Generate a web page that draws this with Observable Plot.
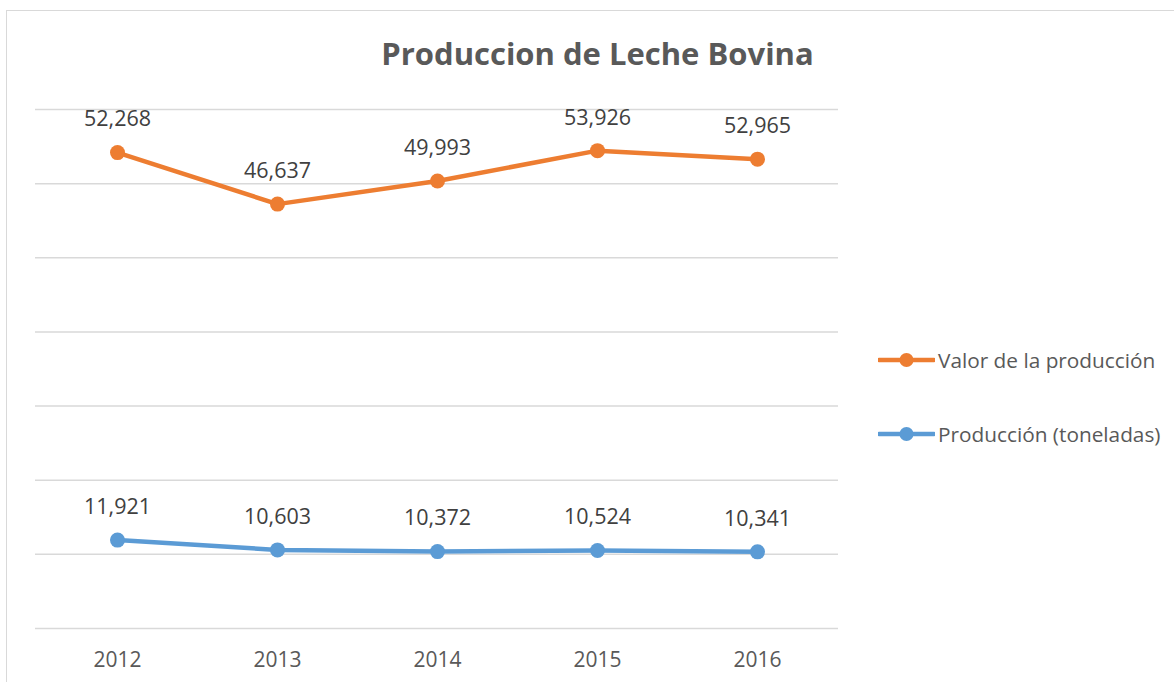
<!DOCTYPE html>
<html>
<head>
<meta charset="utf-8">
<script src="https://cdn.jsdelivr.net/npm/d3@7"></script>
<script src="https://cdn.jsdelivr.net/npm/@observablehq/plot@0.6"></script>
<style>
  html, body { margin: 0; padding: 0; background: #fff; width: 1174px; height: 682px; overflow: hidden; }
  #wrap { position: relative; width: 1174px; height: 682px; font-family: "Open Sans", sans-serif; }
  #frame { position: absolute; left: 6px; top: 10px; width: 1200px; height: 700px; border: 1.5px solid #d9d9d9; box-sizing: border-box; }
  #title { position: absolute; left: 0; width: 1195px; top: 32px; text-align: center; font-size: 31px; font-weight: 700; color: #595959; }
  #chart { position: absolute; left: 0; top: 0; }
  .leg { position: absolute; left: 878px; display: flex; align-items: center; font-size: 20.8px; color: #595959; }
  .leg svg { margin-right: 3px; }
</style>
</head>
<body>
<div id="wrap">
  <div id="frame"></div>
  <div id="chart"></div>
  <div id="title">Produccion de Leche Bovina</div>
  <div id="legend"></div>
</div>
<script>
const years = ["2012", "2013", "2014", "2015", "2016"];
const seriesNames = ["Producción (toneladas)", "Valor de la producción"];
const produccion = [11921, 10603, 10372, 10524, 10341];
const valor = [52268, 46637, 49993, 53926, 52965];
const colors = ["#5B9BD5", "#ED7D31"];
const gridTicks = [0, 10000, 20000, 30000, 40000, 50000, 60000, 70000];

const data = [];
[produccion, valor].forEach((vals, s) => {
  vals.forEach((v, i) => data.push({year: years[i], series: seriesNames[s], value: v}));
});

const fmt = d3.format(",");

const chart = Plot.plot({
  width: 1174,
  height: 682,
  marginTop: 109,
  marginBottom: 54,
  marginLeft: 35,
  marginRight: 336,
  style: {fontFamily: "'Open Sans', sans-serif", background: "transparent"},
  x: {type: "point", domain: years, padding: 0.5, label: null},
  y: {domain: [0, 70000], axis: null},
  color: {domain: seriesNames, range: colors},
  marks: [
    Plot.ruleY(gridTicks, {stroke: "#d9d9d9", strokeWidth: 1.5}),
    Plot.axisX({tickSize: 0, tickPadding: 24, fontSize: 21, fill: "#595959", label: null}),
    Plot.lineY(data, Plot.stackY2({x: "year", y: "value", z: "series", stroke: "series", strokeWidth: 4.5, curve: "linear"})),
    Plot.dot(data, Plot.stackY2({x: "year", y: "value", z: "series", fill: "series", r: 7.5})),
    Plot.text(data, Plot.stackY2({x: "year", y: "value", z: "series", text: d => fmt(d.value), dy: -33, fontSize: 21.5, fill: "#404040"}))
  ]
});
document.getElementById("chart").appendChild(chart);

// legend (top entry = top series)
const legend = document.getElementById("legend");
const legItems = [{name: seriesNames[1], color: colors[1], top: 346}, {name: seriesNames[0], color: colors[0], top: 420}];
legItems.forEach(it => {
  const div = document.createElement("div");
  div.className = "leg";
  div.style.top = it.top + "px";
  div.innerHTML = `<svg width="57" height="16"><line x1="1" x2="56" y1="8" y2="8" stroke="${it.color}" stroke-width="4.5" stroke-linecap="round"/><circle cx="28.5" cy="8" r="7" fill="${it.color}"/></svg><span>${it.name}</span>`;
  legend.appendChild(div);
});
</script>
</body>
</html>
